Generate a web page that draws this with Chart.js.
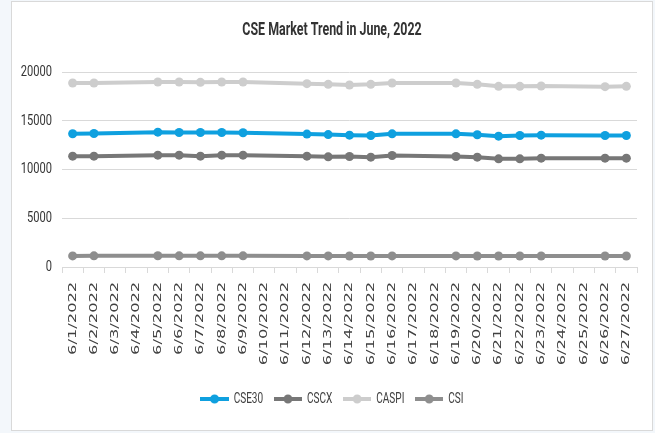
<!DOCTYPE html>
<html>
<head>
<meta charset="utf-8">
<script src="https://cdn.jsdelivr.net/npm/chart.js@4"></script>
<style>
  html, body { margin: 0; padding: 0; }
  body { width: 655px; height: 433px; background: #f3f7fb; position: relative; overflow: hidden; }
  #frame { position: absolute; left: 11px; top: 1px; width: 640px; height: 428px; background: #fff; border: 1px solid #d9d9d9; }
  #wrap { position: absolute; left: 0; top: 0; width: 655px; height: 433px; }
</style>
</head>
<body>
<div id="frame"></div>
<div id="wrap"><canvas id="chart"></canvas></div>
<script>
// all calendar days shown on the axis; null = no trading that day
const days = [
  '6/1/2022', '6/2/2022', '6/3/2022', '6/4/2022', '6/5/2022', '6/6/2022', '6/7/2022',
  '6/8/2022', '6/9/2022', '6/10/2022', '6/11/2022', '6/12/2022', '6/13/2022', '6/14/2022',
  '6/15/2022', '6/16/2022', '6/17/2022', '6/18/2022', '6/19/2022', '6/20/2022', '6/21/2022',
  '6/22/2022', '6/23/2022', '6/24/2022', '6/25/2022', '6/26/2022', '6/27/2022'
];

const cse30 = [13665, 13690, null, null, 13830, 13800, 13795, 13790, 13765, null, null, 13630, 13580,
  13525, 13490, 13660, null, null, 13660, 13560, 13420, 13490, 13520, null, null, 13490, 13490];
const cscx = [11370, 11370, null, null, 11470, 11470, 11370, 11470, 11470, null, null, 11370, 11300,
  11335, 11265, 11440, null, null, 11335, 11265, 11095, 11095, 11165, null, null, 11165, 11165];
const caspi = [18875, 18875, null, null, 18975, 18975, 18940, 18975, 18975, null, null, 18805, 18735,
  18670, 18735, 18875, null, null, 18875, 18735, 18530, 18530, 18565, null, null, 18500, 18530];
const csi = [1140, 1142, null, null, 1150, 1148, 1146, 1147, 1146, null, null, 1140, 1136,
  1132, 1130, 1138, null, null, 1138, 1134, 1126, 1128, 1130, null, null, 1128, 1129];

const seriesNames = ['CSE30', 'CSCX', 'CASPI', 'CSI'];
const seriesColors = ['#0fa0df', '#777777', '#cdcdcd', '#8e8e8e'];
const yTicks = [0, 5000, 10000, 15000, 20000];

const textFont = 'Roboto, "Noto Sans", sans-serif';
const LEGEND_SQUEEZE = 0.67;

// legend marker: short thick line with a dot (pre-widened, the legend is squeezed later)
function legendIcon(color) {
  const w = Math.round(28 / LEGEND_SQUEEZE);
  const c = document.createElement('canvas');
  c.width = w; c.height = 10;
  const g = c.getContext('2d');
  g.strokeStyle = color; g.lineWidth = 4;
  g.beginPath(); g.moveTo(0, 5); g.lineTo(w, 5); g.stroke();
  g.fillStyle = color;
  g.beginPath(); g.ellipse(w / 2, 5, 4.5 / LEGEND_SQUEEZE, 4.5, 0, 0, Math.PI * 2); g.fill();
  return c;
}

function squeezeX(ctx, cx, s) {
  ctx.translate(cx, 0);
  ctx.scale(s, 1);
  ctx.translate(-cx, 0);
}

// text in the original is tall and narrow; mimic that with canvas transforms
const textShape = {
  id: 'textShape',
  beforeDraw(chart) {
    if (chart._shaped) return;
    chart._shaped = true;

    const xs = chart.scales.x;
    const xDraw = xs.drawLabels;
    xs.drawLabels = function (area) {
      const c = this.ctx;
      c.save();
      c.translate(0, this.top);
      c.scale(1, 1.48);
      c.translate(0, -this.top);
      xDraw.call(this, area);
      c.restore();
    };

    const ys = chart.scales.y;
    ys._computeLabelArea = () => undefined;
    const yDraw = ys.drawLabels;
    ys.drawLabels = function (area) {
      const c = this.ctx;
      c.save();
      squeezeX(c, this.right - this.options.ticks.padding, 0.74);
      yDraw.call(this, area);
      c.restore();
    };

    const tb = chart.titleBlock;
    const tDraw = tb.draw;
    tb.draw = function () {
      const c = this.ctx;
      c.save();
      squeezeX(c, (this.left + this.right) / 2, 0.69);
      tDraw.call(this);
      c.restore();
    };

    const lg = chart.legend;
    const lDraw = lg.draw;
    lg.draw = function () {
      const c = this.ctx;
      c.save();
      squeezeX(c, (this.left + this.right) / 2, LEGEND_SQUEEZE);
      lDraw.call(this);
      c.restore();
    };
  }
};

const allSeries = [cse30, cscx, caspi, csi];

new Chart(document.getElementById('chart'), {
  type: 'line',
  data: {
    labels: days,
    datasets: allSeries.map((vals, i) => ({
      label: seriesNames[i],
      data: vals,
      borderColor: seriesColors[i],
      backgroundColor: seriesColors[i],
      pointBackgroundColor: seriesColors[i],
      pointBorderWidth: 0,
      pointRadius: 4.5,
      borderWidth: 4,
      spanGaps: true,
      tension: 0
    }))
  },
  options: {
    responsive: true,
    maintainAspectRatio: false,
    animation: false,
    layout: { padding: { left: 27, right: 18, top: 0, bottom: 16.5 } },
    plugins: {
      title: {
        display: true,
        text: 'CSE Market Trend in June, 2022',
        color: '#333333',
        font: { family: textFont, size: 18, weight: 'bold' },
        padding: { top: 20, bottom: 30.4 }
      },
      legend: {
        position: 'bottom',
        labels: {
          color: '#404040',
          font: { family: textFont, size: 15 },
          usePointStyle: true,
          pointStyleWidth: Math.round(28 / LEGEND_SQUEEZE),
          padding: 16,
          generateLabels(chart) {
            return chart.data.datasets.map((ds, i) => ({
              text: ds.label,
              pointStyle: legendIcon(seriesColors[i]),
              fillStyle: seriesColors[i],
              strokeStyle: seriesColors[i],
              lineWidth: 0,
              fontColor: '#404040',
              datasetIndex: i
            }));
          }
        }
      },
      tooltip: { enabled: false }
    },
    scales: {
      x: {
        offset: true,
        grid: { display: true, drawOnChartArea: false, offset: true, tickLength: 6, color: '#d9d9d9' },
        border: { color: '#d9d9d9' },
        ticks: {
          autoSkip: false,
          minRotation: 90,
          maxRotation: 90,
          padding: 4,
          color: '#404040',
          font: { family: '"DejaVu Sans", sans-serif', size: 11 }
        },
        afterFit(s) { s.height = 108.5; }
      },
      y: {
        min: 0,
        max: 20000,
        afterBuildTicks(s) { s.ticks = yTicks.map(v => ({ value: v })); },
        grid: { color: '#d9d9d9', drawTicks: false },
        border: { display: false },
        ticks: {
          padding: 10,
          color: '#333333',
          font: { family: textFont, size: 15 },
          callback: v => String(v)
        },
        afterFit(s) { s.width = 35; }
      }
    }
  },
  plugins: [textShape]
});
</script>
</body>
</html>
